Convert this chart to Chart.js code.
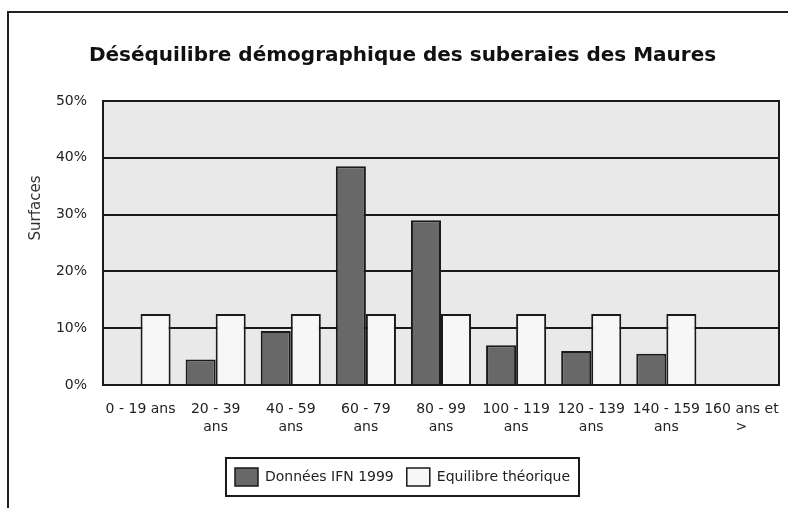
<!DOCTYPE html>
<html>
<head>
<meta charset="utf-8">
<script src="https://cdn.jsdelivr.net/npm/chart.js@4.4.0/dist/chart.umd.min.js"></script>
<style>
  html, body { margin: 0; padding: 0; background: #fff; }
  #wrap { width: 788px; height: 508px; }
</style>
</head>
<body>
<div id="wrap"><canvas id="demo"></canvas></div>
<script>
const ageClasses = [
  "0 - 19 ans",
  ["20 - 39", "ans"],
  ["40 - 59", "ans"],
  ["60 - 79", "ans"],
  ["80 - 99", "ans"],
  ["100 - 119", "ans"],
  ["120 - 139", "ans"],
  ["140 - 159", "ans"],
  ["160 ans et", ">"]
];
const donneesIFN = [0, 4.5, 9.5, 38.5, 29, 7, 6, 5.5, 0];
const equilibre = [12.5, 12.5, 12.5, 12.5, 12.5, 12.5, 12.5, 12.5, 0];
const yTicks = [0, 10, 20, 30, 40, 50];

const FONT = "'DejaVu Sans', Verdana, sans-serif";

// fond gris de la zone de tracé + cadre extérieur
const frame = {
  id: "frame",
  beforeDraw(chart) {
    const { ctx, chartArea: a } = chart;
    ctx.save();
    ctx.fillStyle = "#e9e9e9";
    ctx.fillRect(a.left, a.top, a.right - a.left, a.bottom - a.top);
    ctx.strokeStyle = "#222";
    ctx.lineWidth = 2;
    ctx.strokeRect(8, 12, 800, 520);
    ctx.restore();
  },
  afterDraw(chart) {
    const { ctx, chartArea: a, legend } = chart;
    ctx.save();
    ctx.strokeStyle = "#1a1a1a";
    ctx.lineWidth = 2;
    ctx.strokeRect(a.left, a.top, a.right - a.left, a.bottom - a.top);
    // cadre de la légende
    const boxes = legend.legendHitBoxes;
    if (boxes && boxes.length) {
      const l = Math.min(...boxes.map(b => b.left)) - 9;
      const r = Math.max(...boxes.map(b => b.left + b.width)) + 9;
      const t = Math.min(...boxes.map(b => b.top)) - 10;
      const btm = Math.max(...boxes.map(b => b.top + b.height)) + 10;
      ctx.strokeRect(l, t, r - l, btm - t);
    }
    // titre de l'axe Y
    ctx.translate(36, 208);
    ctx.rotate(-Math.PI / 2);
    ctx.fillStyle = "#333";
    ctx.font = "15px " + FONT;
    ctx.textAlign = "center";
    ctx.textBaseline = "middle";
    ctx.fillText("Surfaces", 0, 0);
    ctx.restore();
  }
};

new Chart(document.getElementById("demo"), {
  type: "bar",
  data: {
    labels: ageClasses,
    datasets: [
      {
        label: "Données IFN 1999",
        data: donneesIFN,
        backgroundColor: "#686868",
        borderColor: "#1a1a1a",
        borderWidth: 2
      },
      {
        label: "Equilibre théorique",
        data: equilibre,
        backgroundColor: "#f7f7f7",
        borderColor: "#1a1a1a",
        borderWidth: 2
      }
    ]
  },
  options: {
    responsive: true,
    maintainAspectRatio: false,
    animation: false,
    categoryPercentage: 0.8,
    barPercentage: 1.0,
    layout: {
      padding: { left: 26, right: 9, top: 0, bottom: 12 }
    },
    plugins: {
      tooltip: { enabled: false },
      title: {
        display: true,
        text: "Déséquilibre démographique des suberaies des Maures",
        color: "#111",
        font: { family: FONT, size: 20, weight: "bold" },
        padding: { top: 44, bottom: 33 }
      },
      legend: {
        position: "bottom",
        labels: {
          color: "#222",
          font: { family: FONT, size: 14 },
          boxWidth: 23,
          boxHeight: 18,
          padding: 13,
          generateLabels(chart) {
            return chart.data.datasets.map((ds, i) => ({
              text: ds.label,
              fillStyle: ds.backgroundColor,
              strokeStyle: "#1a1a1a",
              lineWidth: 1.5,
              datasetIndex: i,
              fontColor: "#222"
            }));
          }
        }
      }
    },
    scales: {
      x: {
        grid: { display: false },
        border: { display: false },
        ticks: {
          color: "#222",
          font: { family: FONT, size: 14, lineHeight: 1.3 },
          maxRotation: 0,
          autoSkip: false,
          padding: 7
        },
        afterFit(scale) { scale.height = 70; }
      },
      y: {
        min: 0,
        max: 50,
        afterBuildTicks(scale) { scale.ticks = yTicks.map(v => ({ value: v })); },
        grid: { color: "#1a1a1a", lineWidth: 2, drawTicks: false },
        border: { display: false },
        ticks: {
          color: "#222",
          font: { family: FONT, size: 14 },
          padding: 16,
          callback: v => v + "%"
        },
        afterFit(scale) { scale.width = 77; }
      }
    }
  },
  plugins: [frame]
});
</script>
</body>
</html>
